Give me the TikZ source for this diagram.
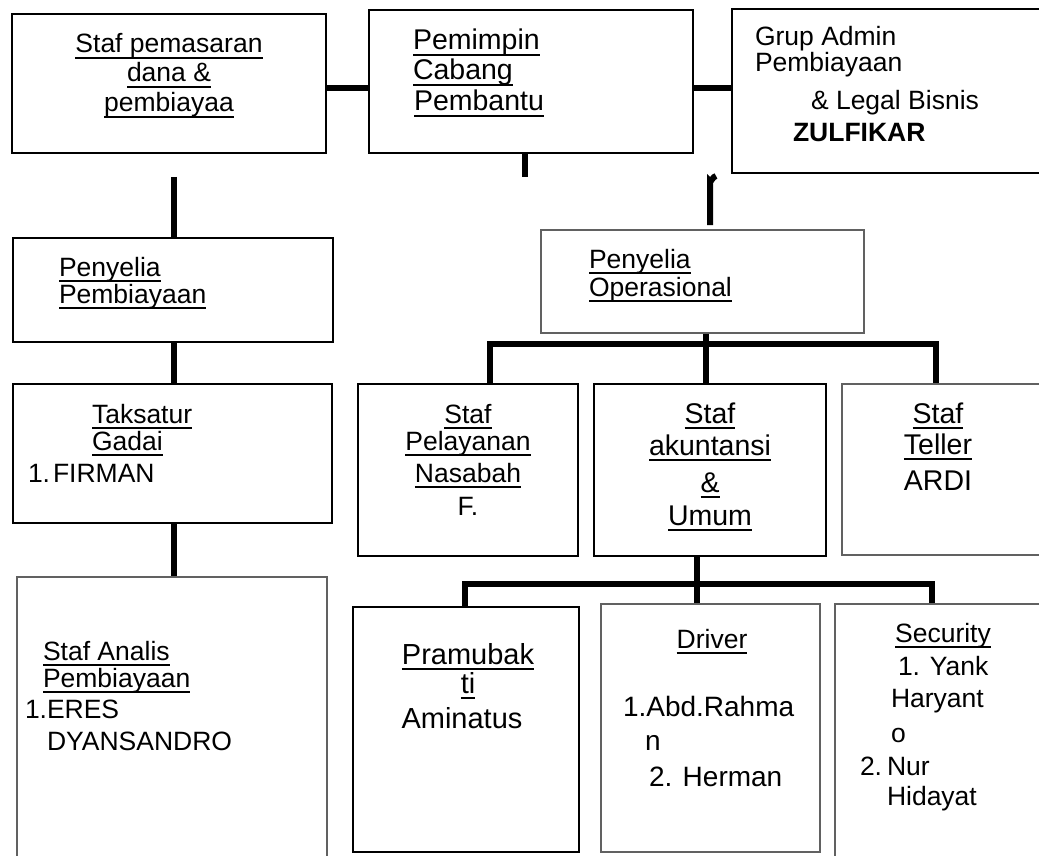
\documentclass[tikz,border=0pt]{standalone}
\usepackage{fontspec}
\setmainfont{Liberation Sans}
\newsavebox\ulbox
\newcommand\ulin[1]{\sbox\ulbox{#1}\rlap{\rule[-6pt]{\wd\ulbox}{2pt}}\usebox\ulbox}
\definecolor{boxgray}{gray}{0.38}
\begin{document}
\begin{tikzpicture}[x=1pt,y=-1pt,
  box/.style={draw=black, line width=1.3pt, inner sep=0pt},
  gbox/.style={draw=boxgray, line width=1.3pt, inner sep=0pt},
  conn/.style={line width=6pt},
  L/.style={inner sep=0pt, outer sep=0pt, anchor=base west},
  C/.style={inner sep=0pt, outer sep=0pt, anchor=base},
  fa/.style={font=\fontsize{26.5}{30}\selectfont},
  fb/.style={font=\fontsize{28.5}{32}\selectfont}]
\clip (0,0) rectangle (1039,856);
\fill[white] (0,0) rectangle (1039,856);
% boxes
\node[box, minimum width=314, minimum height=139] (B1) at (169,83.5) {};
\node[box, minimum width=324, minimum height=143] (B2) at (531,81.5) {};
\node[box, minimum width=318, minimum height=164] (B3) at (891,91) {};
\node[box, minimum width=320, minimum height=104] (P1) at (173,290) {};
\node[box, minimum width=319, minimum height=139] (T1) at (172.5,453.5) {};
\node[gbox, minimum width=310, minimum height=293] (A1) at (172,723.5) {};
\node[gbox, minimum width=323, minimum height=103] (P2) at (702.5,281.5) {};
\node[box, minimum width=220, minimum height=172] (L1) at (468,470) {};
\node[box, minimum width=232, minimum height=172] (L2) at (710,470) {};
\node[gbox, minimum width=208, minimum height=171] (L3) at (946,469.5) {};
\node[box, minimum width=226, minimum height=245] (M1) at (466,729.5) {};
\node[gbox, minimum width=219, minimum height=248] (M2) at (710.5,728) {};
\node[gbox, minimum width=215, minimum height=266] (M3) at (942.5,737) {};
% coordinates for connectors
\coordinate (h1) at (0,88);
\coordinate (v1t) at (174,177);
\coordinate (v2) at (525,177);
\coordinate (v3b) at (710,225);
\coordinate (v3k) at (710,181);
\coordinate (v3t) at (716,176);
\coordinate (bar1) at (0,344);
\coordinate (m1) at (706,0);
\coordinate (l1c) at (490,0);
\coordinate (l3c) at (936,0);
\coordinate (bar2) at (0,584);
\coordinate (m2) at (697,0);
\coordinate (n1c) at (465,0);
\coordinate (n3c) at (932,0);
% connectors
\draw[conn] (B1.east |- h1) -- (B2.west |- h1);
\draw[conn] (B2.east |- h1) -- (B3.west |- h1);
\draw[conn] (v1t) -- (v1t |- P1.north);
\draw[conn] (v2 |- B2.south) -- (v2);
\draw[conn] (v3b) -- (v3k) to[out=-90,in=180] (v3t);
\draw[conn] (P1.south -| v1t) -- (T1.north -| v1t);
\draw[conn] (T1.south -| v1t) -- (A1.north -| v1t);
\draw[conn] (P2.south -| m1) -- (L2.north -| m1);
\draw[conn] (L1.north -| l1c) |- (bar1 -| l3c) -- (L3.north -| l3c);
\draw[conn] (L2.south -| m2) -- (M2.north -| m2);
\draw[conn] (M1.north -| n1c) |- (bar2 -| n3c) -- (M3.north -| n3c);
% texts: Staf pemasaran
\node[C,fa] (tb1a) at (169,53) {\ulin{Staf pemasaran}};
\node[C,fa] (tb1b) at (169,82) {\ulin{dana \&}};
\node[C,fa] (tb1c) at (169,112) {\ulin{pembiayaa}};
% Pemimpin
\node[L,fb] (tb2a) at (413,50) {\ulin{Pemimpin}};
\node[L,fb] (tb2b) at (413,80) {\ulin{Cabang}};
\node[L,fb] (tb2c) at (414,111) {\ulin{Pembantu}};
% Grup Admin
\node[L,fa] (tb3a) at (755,46) {Grup Admin};
\node[L,fa] (tb3b) at (755,72) {Pembiayaan};
\node[L,fa] (tb3c) at (811,110) {\& Legal Bisnis};
\node[L,fa,font=\fontsize{26.5}{30}\selectfont\bfseries] (tb3d) at (793,142) {ZULFIKAR};
% Penyelia Pembiayaan
\node[L,fa] (tp1a) at (59,276) {\ulin{Penyelia}};
\node[L,fa] (tp1b) at (59,303) {\ulin{Pembiayaan}};
% Taksatur
\node[L,fa] (tt1a) at (92,423) {\ulin{Taksatur}};
\node[L,fa] (tt1b) at (92,450) {\ulin{Gadai}};
\node[L,fa] (tt1c) at (28,482) {1.};
\node[L,fa] (tt1d) at (53,482) {FIRMAN};
% Staf Analis
\node[L,fa] (ta1a) at (43,660) {\ulin{Staf Analis}};
\node[L,fa] (ta1b) at (43,687) {\ulin{Pembiayaan}};
\node[L,fa] (ta1c) at (25,718) {1.};
\node[L,fa] (ta1d) at (47,718) {ERES};
\node[L,fa] (ta1e) at (47,750) {DYANSANDRO};
% Penyelia Operasional
\node[L,fa] (tp2a) at (589,268) {\ulin{Penyelia}};
\node[L,fa] (tp2b) at (589,296) {\ulin{Operasional}};
% Staf Pelayanan
\node[C,fa] (tl1a) at (468,423) {\ulin{Staf}};
\node[C,fa] (tl1b) at (468,450) {\ulin{Pelayanan}};
\node[C,fa] (tl1c) at (468,482) {\ulin{Nasabah}};
\node[C,fa] (tl1d) at (468,515) {F.};
% Staf akuntansi
\node[C,fb] (tl2a) at (710,423) {\ulin{Staf}};
\node[C,fb] (tl2b) at (710,455) {\ulin{akuntansi}};
\node[C,fb] (tl2c) at (710,492) {\ulin{\&}};
\node[C,fb] (tl2d) at (710,525) {\ulin{Umum}};
% Staf Teller
\node[C,fb] (tl3a) at (938,423) {\ulin{Staf}};
\node[C,fb] (tl3b) at (938,454) {\ulin{Teller}};
\node[C,fb] (tl3c) at (938,490) {ARDI};
% Pramubakti
\node[C,font=\fontsize{29}{32}\selectfont] (tm1a) at (468,664) {\ulin{Pramubak}};
\node[C,font=\fontsize{29}{32}\selectfont] (tm1b) at (468,693) {\ulin{ti}};
\node[C,font=\fontsize{29}{32}\selectfont] (tm1c) at (462,728) {Aminatus};
% Driver
\node[C,fa] (tm2a) at (712,648) {\ulin{Driver}};
\node[L,font=\fontsize{28}{32}\selectfont] (tm2b) at (623,716) {1.Abd.Rahma};
\node[L,font=\fontsize{28}{32}\selectfont] (tm2c) at (645,750) {n};
\node[L,font=\fontsize{28}{32}\selectfont] (tm2d) at (649,786) {2. Herman};
% Security
\node[C,fa] (tm3a) at (943,642) {\ulin{Security}};
\node[L,fa] (tm3b) at (898,675) {1. Yank};
\node[L,fa] (tm3c) at (891,707) {Haryant};
\node[L,fa] (tm3d) at (891,742) {o};
\node[L,fa] (tm3e) at (860,775) {2.};
\node[L,fa] (tm3f) at (887,775) {Nur};
\node[L,fa] (tm3g) at (887,805) {Hidayat};
\end{tikzpicture}
\end{document}
